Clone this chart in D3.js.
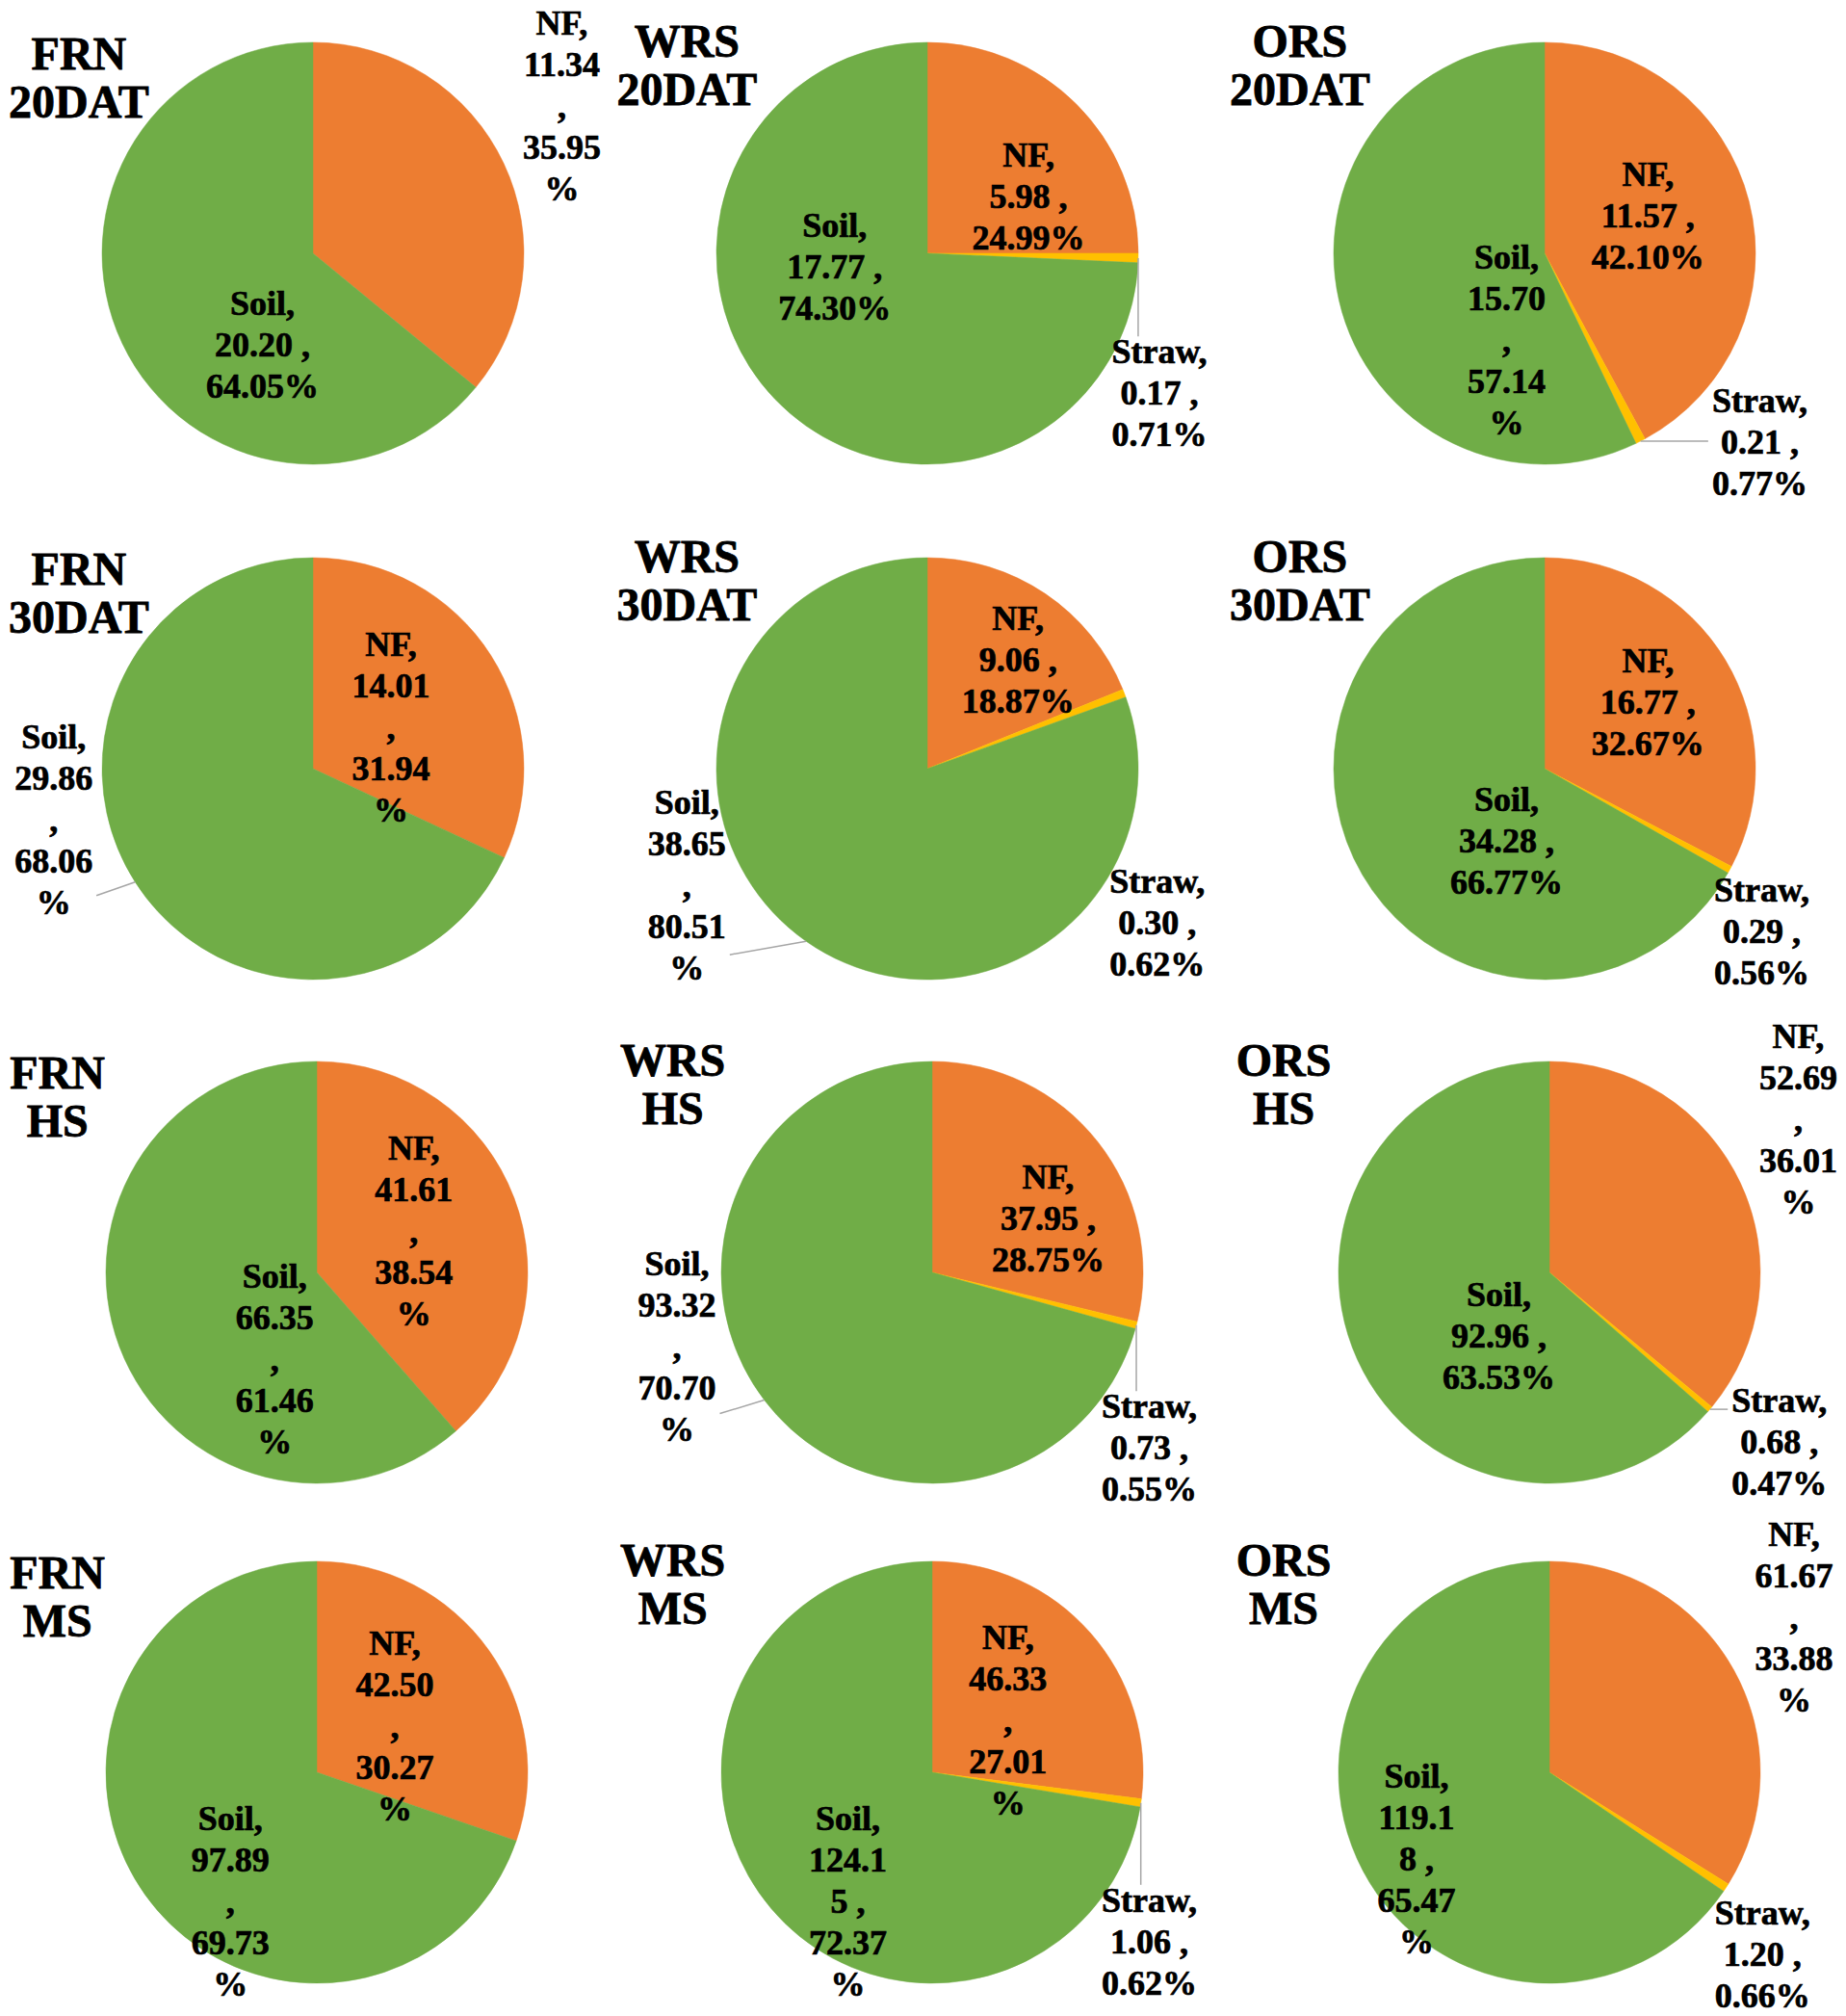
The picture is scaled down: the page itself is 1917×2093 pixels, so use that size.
<!DOCTYPE html>
<html>
<head>
<meta charset="utf-8">
<script src="https://cdn.jsdelivr.net/npm/d3@7"></script>
<style>
  html, body { margin: 0; padding: 0; background: #fff; }
  svg { display: block; }
</style>
</head>
<body>
<script>
// --- data ---
const treatments = ["FRN", "WRS", "ORS"];
const stages = ["20DAT", "30DAT", "HS", "MS"];
const components = ["NF", "Straw", "Soil"];

// rows = stages, columns = treatments
const nfValues    = [[11.34, 5.98, 11.57], [14.01, 9.06, 16.77], [41.61, 37.95, 52.69], [42.50, 46.33, 61.67]];
const strawValues = [[0, 0.17, 0.21], [0, 0.30, 0.29], [0, 0.73, 0.68], [0, 1.06, 1.20]];
const soilValues  = [[20.20, 17.77, 15.70], [29.86, 38.65, 34.28], [66.35, 93.32, 92.96], [97.89, 124.15, 119.18]];

const nfPct    = [[35.95, 24.99, 42.10], [31.94, 18.87, 32.67], [38.54, 28.75, 36.01], [30.27, 27.01, 33.88]];
const strawPct = [[0, 0.71, 0.77], [0, 0.62, 0.56], [0, 0.55, 0.47], [0, 0.62, 0.66]];
const soilPct  = [[64.05, 74.30, 57.14], [68.06, 80.51, 66.77], [61.46, 70.70, 63.53], [69.73, 72.37, 65.47]];

// --- layout ---
const W = 1917, H = 2093;
const R = 219;
const rowY = [263, 798, 1321, 1840];
const colX = [[325, 963, 1604], [325, 963, 1604], [329, 968, 1609], [329, 968, 1609]];
// title centre offset (radius units) per row, per column
const titleDx = [[-1.11, -1.14, -1.16], [-1.11, -1.14, -1.16], [-1.23, -1.23, -1.26], [-1.23, -1.23, -1.26]];
const titleDy = [-0.87, -0.93, -0.93];

// label placement: [dx, dy] in radius units, wrap style, leader line
// order per chart: NF, Straw, Soil
const labelLayout = [
  [ // 20DAT
    [[1.18, -0.70, "5"], null, [-0.24, 0.43, "3"]],
    [[0.48, -0.27, "3"], [1.10, 0.66, "3", true], [-0.44, 0.06, "3"]],
    [[0.49, -0.18, "3"], [1.02, 0.89, "3", true], [-0.18, 0.41, "5"]]
  ],
  [ // 30DAT
    [[0.37, -0.20, "5"], null, [-1.23, 0.24, "5", true]],
    [[0.43, -0.52, "3"], [1.09, 0.73, "3"], [-1.14, 0.55, "5", true]],
    [[0.49, -0.32, "3"], [1.03, 0.77, "3"], [-0.18, 0.34, "3"]]
  ],
  [ // HS
    [[0.46, -0.20, "5"], null, [-0.20, 0.41, "5"]],
    [[0.55, -0.26, "3"], [1.03, 0.83, "3", true], [-1.21, 0.35, "5", true]],
    [[1.18, -0.73, "5"], [1.09, 0.80, "3", true], [-0.24, 0.30, "3"]]
  ],
  [ // MS
    [[0.37, -0.22, "5"], null, [-0.41, 0.61, "5"]],
    [[0.36, -0.25, "5"], [1.03, 0.80, "3", true], [-0.40, 0.61, "split"]],
    [[1.16, -0.74, "5"], [1.01, 0.86, "3"], [-0.63, 0.41, "split"]]
  ]
];

const color = d3.scaleOrdinal().domain(components).range(["#ED7D31", "#FFC000", "#70AD47"]);
const FONT = "'Liberation Serif', Tinos, 'Times New Roman', serif";
const LINE = 43;

const svg = d3.select("body").append("svg")
  .attr("width", W)
  .attr("height", H)
  .attr("viewBox", `0 0 ${W} ${H}`);

svg.append("rect").attr("width", W).attr("height", H).attr("fill", "#fff");

const pie = d3.pie().sort(null).value(d => d.value);
const arc = d3.arc().innerRadius(0).outerRadius(R);

function labelLines(name, value, pct, wrap) {
  const v = value.toFixed(2), p = pct.toFixed(2);
  if (wrap === "5") return [name + ",", v, ",", p, "%"];
  if (wrap === "split") return [name + ",", v.slice(0, 5), v.slice(5) + " ,", p, "%"];
  return [name + ",", v + " ,", p + "%"];
}

stages.forEach((stage, si) => {
  treatments.forEach((trt, ti) => {
    const cx = colX[si][ti], cy = rowY[si];
    const rows = [
      { name: "NF", value: nfValues[si][ti], pct: nfPct[si][ti] },
      { name: "Straw", value: strawValues[si][ti], pct: strawPct[si][ti] },
      { name: "Soil", value: soilValues[si][ti], pct: soilPct[si][ti] }
    ];

    const g = svg.append("g").attr("transform", `translate(${cx},${cy})`);

    const arcs = pie(rows);

    g.selectAll("path.slice")
      .data(arcs.filter(d => d.data.value > 0))
      .join("path")
        .attr("class", "slice")
        .attr("d", arc)
        .attr("fill", d => color(d.data.name))
        .attr("stroke", d => color(d.data.name))
        .attr("stroke-width", 0.5);

    // title
    const title = g.append("text")
      .attr("font-family", FONT)
      .attr("font-weight", "bold")
      .attr("font-size", 48)
      .attr("text-anchor", "middle")
      .attr("fill", "#000")
      .attr("stroke", "#000")
      .attr("stroke-width", 0.8);
    [trt, stage].forEach((t, i) => {
      title.append("tspan")
        .attr("x", titleDx[si][ti] * R)
        .attr("y", titleDy[ti] * R + i * 50)
        .text(t);
    });

    // data labels
    arcs.forEach((a, ci) => {
      const lay = labelLayout[si][ti][ci];
      if (!lay || a.data.value <= 0) return;
      const [dx, dy, wrap, leader] = lay;
      const lines = labelLines(a.data.name, a.data.value, a.data.pct, wrap);
      const lx = dx * R, ly = dy * R;
      const txt = g.append("text")
        .attr("font-family", FONT)
        .attr("font-weight", "bold")
        .attr("font-size", 36)
        .attr("text-anchor", "middle")
        .attr("fill", "#000")
        .attr("stroke", "#000")
        .attr("stroke-width", 0.7);
      lines.forEach((l, i) => {
        txt.append("tspan")
          .attr("x", lx)
          .attr("y", ly + (i - (lines.length - 1) / 2) * LINE)
          .attr("dy", "0.35em")
          .text(l);
      });

      if (leader) {
        const mid = (a.startAngle + a.endAngle) / 2;
        const ex = R * Math.sin(mid), ey = -R * Math.cos(mid);
        const bb = txt.node().getBBox();
        const pad = 4;
        const bx0 = bb.x - pad, bx1 = bb.x + bb.width + pad;
        const by0 = bb.y + 4, by1 = bb.y + bb.height - 14;
        const nx = Math.max(bx0, Math.min(ex, bx1));
        // side leaders meet the label near its last line, as in the figure
        const ny = (nx === bx0 || nx === bx1) && Math.abs(dx) > 1.1
          ? Math.max(ey, Math.min(by1, ey + 14))
          : Math.max(by0, Math.min(ey, by1));
        g.insert("line", "text")
          .attr("x1", ex).attr("y1", ey)
          .attr("x2", nx).attr("y2", ny)
          .attr("stroke", "#A6A6A6")
          .attr("stroke-width", 1.5);
      }
    });
  });
});
</script>
</body>
</html>
